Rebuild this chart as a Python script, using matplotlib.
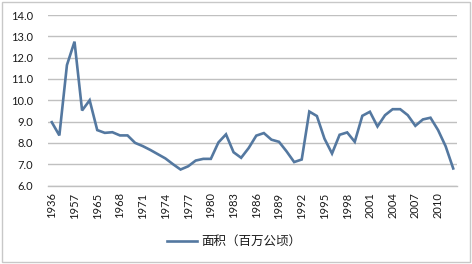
import numpy as np
import matplotlib.pyplot as plt
from matplotlib.patches import Rectangle

plt.rcParams['font.family'] = ['Lato', 'Noto Sans CJK SC', 'DejaVu Sans']

# Años (categorías) y superficie en millones de hectáreas
years = [1936, 1949, 1952, 1957, 1959, 1962] + list(range(1965, 2013))
area = [8.97, 8.35, 11.65, 12.75, 9.52, 10.0, 8.6, 8.47, 8.5, 8.35,
        8.35, 8.0, 7.85, 7.67, 7.47, 7.27, 7.0, 6.75, 6.9, 7.17,
        7.25, 7.25, 8.02, 8.4, 7.56, 7.3, 7.76, 8.34, 8.46, 8.15,
        8.05, 7.6, 7.1, 7.22, 9.47, 9.26, 8.2, 7.5, 8.38, 8.49,
        8.05, 9.27, 9.46, 8.77, 9.3, 9.58, 9.58, 9.3, 8.8, 9.1,
        9.18, 8.6, 7.84, 6.8]
label = '面积（百万公顷）'

color_line = '#5478A0'
color_grid = '#C0C0C0'
color_text = '#1A1A1A'

fig = plt.figure(figsize=(4.72, 2.64), dpi=100)
ax = fig.add_axes([48 / 472, 1 - 185.5 / 264, 409 / 472, 170.5 / 264])

idx = np.arange(len(years))
ax.plot(idx, area, color=color_line, lw=1.9, label=label, solid_joinstyle='miter')

ax.set_ylim(6, 14)
ax.set_yticks(np.arange(6, 14.1, 1))
ax.set_yticklabels([f'{v:.1f}' for v in np.arange(6, 14.1, 1)])
ax.set_xlim(-0.5, len(years) - 0.5)
ax.set_xticks(idx[::3])
ax.set_xticklabels([str(y) for y in years[::3]], rotation=90)

ax.grid(axis='y', color=color_grid, lw=1.0)
ax.set_axisbelow(True)
for s in ['top', 'right', 'left']:
    ax.spines[s].set_visible(False)
ax.spines['bottom'].set_color(color_grid)
ax.spines['bottom'].set_linewidth(1.0)
ax.tick_params(axis='both', length=0, labelsize=8, colors=color_text, pad=5)
ax.tick_params(axis='y', pad=11)

fig.legend(loc='center', bbox_to_anchor=(234 / 472, 1 - 241 / 264), frameon=False,
           fontsize=9, handlelength=2.4, handletextpad=0.3, labelcolor=color_text)

fig.patches.append(Rectangle((2 / 472, 2 / 264), 468 / 472, 260 / 264, transform=fig.transFigure,
                             fill=False, edgecolor='#C8C8C8', lw=1.0))

fig.savefig('out.png', dpi=100)
